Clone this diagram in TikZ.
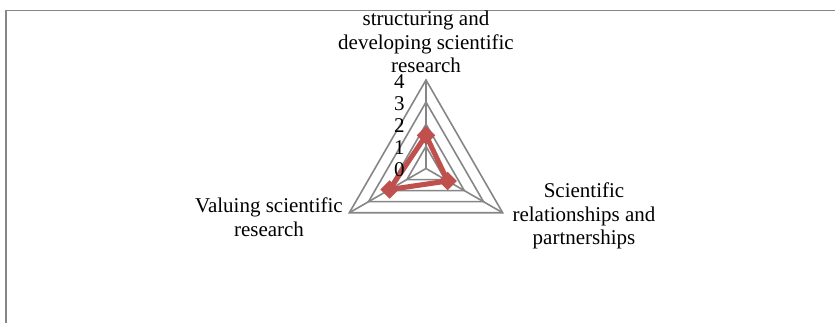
\documentclass[tikz,border=0pt]{standalone}
\usepackage{fontspec}
\setmainfont{Liberation Serif}
\usetikzlibrary{shapes.geometric}

\definecolor{gridgray}{HTML}{868686}
\definecolor{seriesred}{HTML}{C0504D}
\tikzset{
  ring/.style={draw=gridgray, line width=1.2pt},
  series/.style={draw=seriesred, line width=3.8pt, line join=round},
  datamark/.style={diamond, fill=seriesred, inner sep=0pt, minimum size=14pt},
  catlabel/.style={align=center, inner sep=0pt, font=\fontsize{15.75}{17.6}\selectfont},
  ticklabel/.style={anchor=east, inner sep=0pt, font=\fontsize{15.75}{17}\selectfont}
}

\begin{document}
\begin{tikzpicture}[x=0.75pt,y=-0.75pt]
  \useasboundingbox (0,0) rectangle (835,323);
  \draw[gridgray, line width=1.2pt] (6,323) -- (6,10.5) -- (835,10.5);

  \begin{scope}[shift={(426,168.5)}]
    \coordinate (c) at (0,0);
    \foreach \r in {1,...,4}
      \draw[ring] (-90:22.125*\r) -- (30:22.125*\r) -- (150:22.125*\r) -- cycle;
    \coordinate (ax1) at (-90:88.5);
    \coordinate (ax2) at (30:88.5);
    \coordinate (ax3) at (150:88.5);
    \draw[ring] (c) -- (ax1) (c) -- (ax2) (c) -- (ax3);

    \node[datamark] (d1) at (-90:1.5*22.125) {};
    \node[datamark] (d2) at (30:1.13*22.125) {};
    \node[datamark] (d3) at (150:1.9*22.125) {};
    \draw[series] (d1.center) -- (d2.center) -- (d3.center) -- cycle;
  \end{scope}

  \foreach \v in {0,...,4}
    \node[ticklabel] (t\v) at (405,{170-22.125*\v}) {\v};

  \node[catlabel] (cat1) at (426,42) {structuring and\\developing scientific\\research};
  \node[catlabel] (cat2) at (584,216) {Scientific\\relationships and\\partnerships};
  \node[catlabel] (cat3) at (269,217) {Valuing scientific\\research};
\end{tikzpicture}
\end{document}
